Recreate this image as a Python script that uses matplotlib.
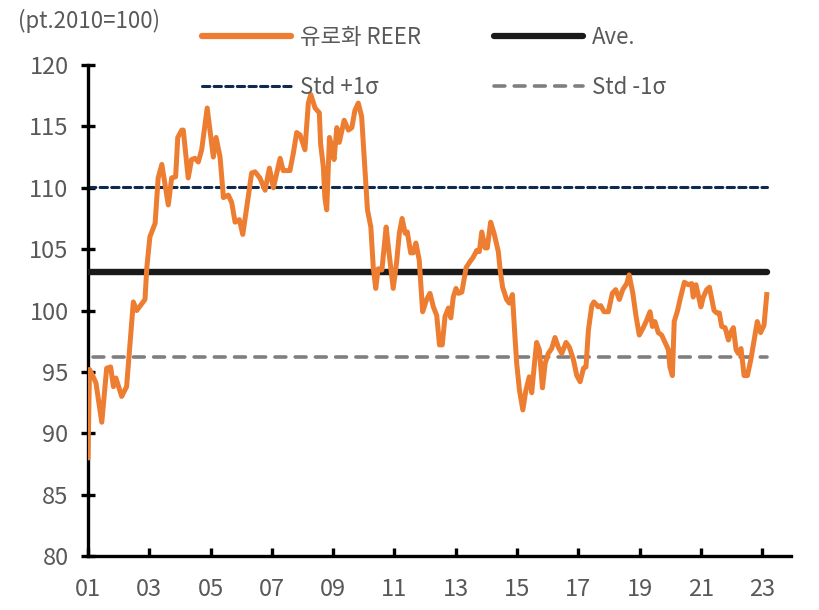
import matplotlib
matplotlib.use('Agg')
import matplotlib.pyplot as plt
from matplotlib.lines import Line2D

plt.rcParams['font.family'] = ['Noto Sans CJK KR', 'DejaVu Sans']

# 유로화 실효환율 (pt.2010=100), 그림에서 읽은 꼭짓점
years = [2001.00, 2001.05, 2001.17, 2001.26, 2001.45, 2001.61, 2001.74, 2001.83, 2001.91, 2002.10,
         2002.26, 2002.48, 2002.59, 2002.86, 2002.92, 2003.02, 2003.19, 2003.29, 2003.41, 2003.62,
         2003.73, 2003.86, 2003.93, 2004.06, 2004.11, 2004.27, 2004.38, 2004.49, 2004.60, 2004.71,
         2004.89, 2005.09, 2005.18, 2005.31, 2005.42, 2005.58, 2005.69, 2005.80, 2005.94, 2006.05,
         2006.18, 2006.34, 2006.45, 2006.61, 2006.78, 2006.92, 2007.05, 2007.27, 2007.37, 2007.59,
         2007.70, 2007.81, 2007.92, 2008.08, 2008.19, 2008.27, 2008.41, 2008.55, 2008.59, 2008.68,
         2008.73, 2008.79, 2008.88, 2008.95, 2009.03, 2009.12, 2009.20, 2009.36, 2009.50, 2009.61,
         2009.71, 2009.82, 2009.93, 2010.04, 2010.12, 2010.23, 2010.31, 2010.39, 2010.47, 2010.59,
         2010.73, 2010.80, 2010.96, 2011.07, 2011.16, 2011.25, 2011.35, 2011.42, 2011.53, 2011.61,
         2011.70, 2011.81, 2011.92, 2012.05, 2012.16, 2012.27, 2012.38, 2012.47, 2012.56, 2012.65,
         2012.76, 2012.84, 2012.92, 2013.01, 2013.09, 2013.20, 2013.34, 2013.47, 2013.56, 2013.69,
         2013.77, 2013.85, 2013.96, 2014.03, 2014.14, 2014.25, 2014.39, 2014.45, 2014.53, 2014.66,
         2014.75, 2014.85, 2014.94, 2014.99, 2015.08, 2015.19, 2015.29, 2015.40, 2015.48, 2015.57,
         2015.64, 2015.73, 2015.83, 2015.92, 2016.02, 2016.13, 2016.24, 2016.35, 2016.46, 2016.60,
         2016.71, 2016.84, 2016.95, 2017.06, 2017.17, 2017.25, 2017.33, 2017.44, 2017.51, 2017.65,
         2017.73, 2017.84, 2017.98, 2018.11, 2018.22, 2018.34, 2018.45, 2018.58, 2018.66, 2018.78,
         2018.88, 2018.99, 2019.12, 2019.23, 2019.34, 2019.42, 2019.50, 2019.61, 2019.72, 2019.83,
         2019.94, 2019.99, 2020.07, 2020.13, 2020.24, 2020.32, 2020.37, 2020.46, 2020.59, 2020.70,
         2020.75, 2020.84, 2021.00, 2021.08, 2021.19, 2021.28, 2021.43, 2021.52, 2021.60, 2021.68,
         2021.79, 2021.90, 2021.97, 2022.06, 2022.15, 2022.22, 2022.31, 2022.41, 2022.52, 2022.63,
         2022.74, 2022.84, 2022.95, 2023.06, 2023.15]
reer = [88.0, 95.2, 94.6, 94.1, 90.9, 95.3, 95.4, 93.8, 94.5, 93.0,
        93.8, 100.7, 100.0, 100.9, 103.5, 106.0, 107.1, 110.8, 111.9, 108.6,
        110.8, 110.9, 114.1, 114.7, 114.7, 110.8, 112.3, 112.4, 112.1, 113.1,
        116.5, 112.5, 114.1, 112.5, 109.2, 109.4, 108.8, 107.2, 107.4, 106.2,
        108.4, 111.2, 111.3, 110.8, 109.8, 111.6, 110.0, 112.4, 111.4, 111.4,
        112.8, 114.5, 114.3, 113.1, 116.9, 117.6, 116.5, 116.1, 113.6, 111.7,
        109.2, 108.2, 114.1, 113.4, 112.3, 114.9, 113.7, 115.5, 114.7, 114.9,
        116.3, 116.9, 115.8, 111.4, 108.2, 106.8, 103.5, 101.8, 103.4, 103.3,
        106.8, 105.2, 101.8, 103.9, 106.3, 107.5, 106.3, 106.4, 104.7, 104.7,
        105.5, 104.1, 99.9, 100.9, 101.4, 100.3, 99.6, 97.2, 97.2, 99.5,
        100.2, 99.4, 101.1, 101.8, 101.4, 101.5, 103.5, 104.0, 104.3, 104.9,
        104.8, 106.4, 105.1, 105.1, 107.2, 106.3, 104.8, 103.3, 101.9, 100.9,
        100.6, 101.3, 97.6, 95.7, 93.5, 91.9, 93.5, 94.6, 93.3, 95.7,
        97.4, 96.8, 93.7, 95.7, 96.5, 96.9, 97.8, 97.0, 96.5, 97.4,
        97.0, 96.0, 94.7, 94.2, 95.3, 95.4, 98.4, 100.4, 100.7, 100.3,
        100.4, 99.9, 99.9, 101.4, 101.7, 100.9, 101.7, 102.2, 102.9, 101.4,
        99.6, 98.0, 98.6, 99.2, 99.9, 98.7, 99.1, 98.2, 98.0, 97.4,
        96.8, 95.4, 94.7, 99.1, 100.0, 100.9, 101.4, 102.3, 102.1, 102.2,
        101.1, 102.1, 100.3, 101.1, 101.7, 101.9, 100.0, 99.8, 99.8, 98.7,
        98.6, 97.6, 98.2, 98.6, 96.8, 96.5, 96.9, 94.7, 94.7, 96.0,
        97.6, 99.1, 98.2, 98.8, 101.3]

ave = 103.1
std_up = 110.1
std_dn = 96.2

tick_years = [2001, 2003, 2005, 2007, 2009, 2011, 2013, 2015, 2017, 2019, 2021, 2023]
tick_labels = ['01', '03', '05', '07', '09', '11', '13', '15', '17', '19', '21', '23']

grey = '#595959'
orange = '#ED7D31'
navy = '#0E2A4D'

up_style = (0, (2.4, 1.4))
dn_style = (0, (3.0, 2.6))

fig = plt.figure(figsize=(8.2, 6.1), dpi=100)
ax = fig.add_axes([0.1073, 0.0885, 0.8573, 0.8049])

x0, x1 = years[0], years[-1]
ax.plot([x0, x1], [std_up, std_up], color=navy, lw=2.2, ls=up_style,
        dash_capstyle='round', zorder=2)
ax.plot([x0 + 0.15, x1], [std_dn, std_dn], color='#7F7F7F', lw=2.6, ls=dn_style,
        dash_capstyle='round', zorder=2)
ax.plot([x0, x1], [ave, ave], color='#1A1A1A', lw=4.6, solid_capstyle='round', zorder=3)
ax.plot(years, reer, color=orange, lw=3.6, solid_joinstyle='round', zorder=4)

ax.set_xlim(2001, 2023.94)
ax.set_ylim(80, 120)
ax.set_yticks(range(80, 121, 5))
ax.set_xticks(tick_years)
ax.set_xticklabels(tick_labels)

for s in ['top', 'right']:
    ax.spines[s].set_visible(False)
for s in ['left', 'bottom']:
    ax.spines[s].set_linewidth(2.4)
    ax.spines[s].set_color('black')

ax.tick_params(axis='y', direction='inout', length=10, width=2.4, pad=9,
               labelsize=17, labelcolor=grey)
ax.tick_params(axis='x', direction='in', length=6, width=2.4, pad=16,
               labelsize=17, labelcolor=grey)

fig.text(0.022, 0.965, '(pt.2010=100)', fontsize=16, color=grey, va='center', ha='left')

handles = [
    Line2D([], [], color=orange, lw=4.5, solid_capstyle='round'),
    Line2D([], [], color=navy, lw=2.2, ls=up_style, dash_capstyle='round'),
    Line2D([], [], color='#1A1A1A', lw=4.5, solid_capstyle='round'),
    Line2D([], [], color='#7F7F7F', lw=2.6, ls=dn_style, dash_capstyle='round'),
]
labels = ['유로화 REER', 'Std +1σ', 'Ave.', 'Std -1σ']
leg = fig.legend(handles, labels, ncol=2, loc='upper left', bbox_to_anchor=(0.222, 0.99),
                 frameon=False, fontsize=16, handlelength=4.0, handletextpad=0.4,
                 columnspacing=3.3, labelspacing=1.2, labelcolor=grey)

fig.savefig('out.png', dpi=100)
